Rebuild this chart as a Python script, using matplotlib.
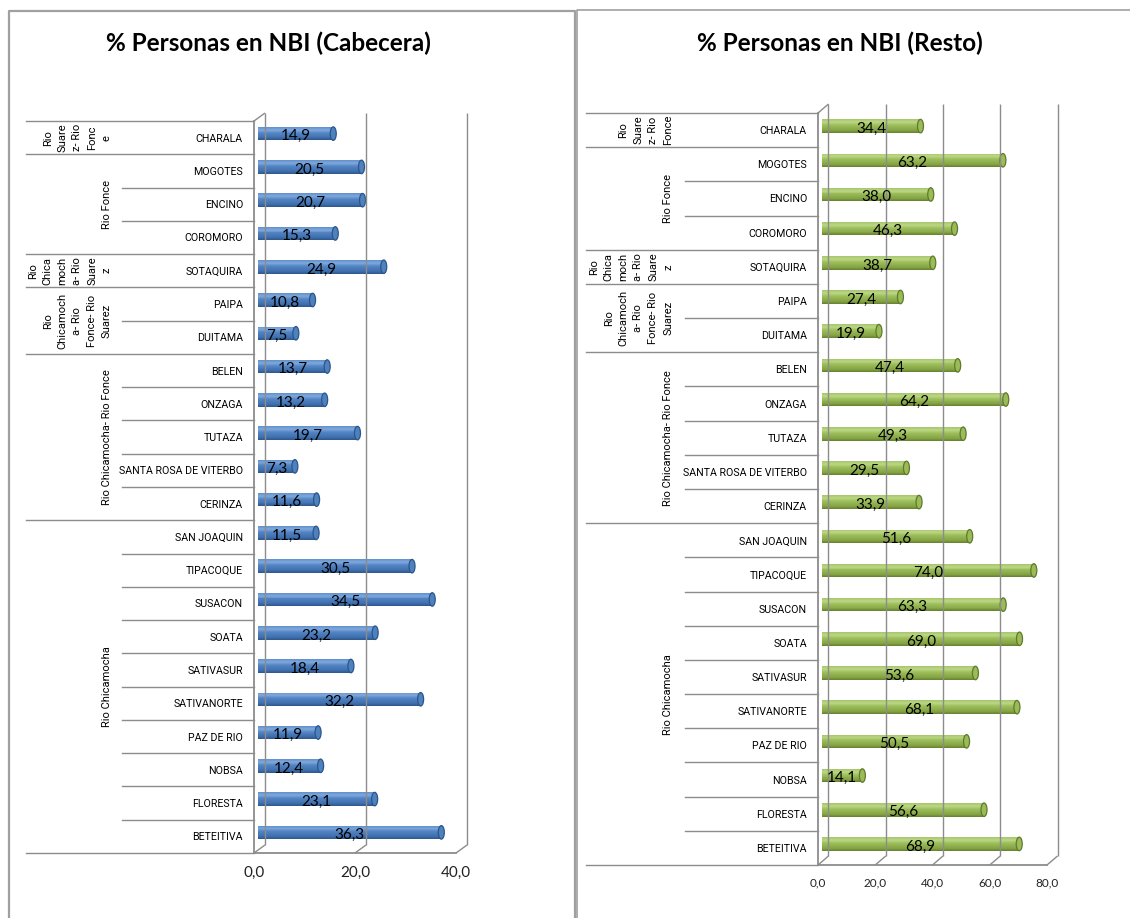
import matplotlib
matplotlib.use('Agg')
import matplotlib.pyplot as plt
from matplotlib.patches import Rectangle, Ellipse
from matplotlib.transforms import blended_transform_factory
import numpy as np

W, H, DPI = 1130, 918, 100

# ---------------- data ----------------
municipios = ["CHARALA", "MOGOTES", "ENCINO", "COROMORO", "SOTAQUIRA", "PAIPA",
              "DUITAMA", "BELEN", "ONZAGA", "TUTAZA", "SANTA ROSA DE VITERBO",
              "CERINZA", "SAN JOAQUIN", "TIPACOQUE", "SUSACON", "SOATA",
              "SATIVASUR", "SATIVANORTE", "PAZ DE RIO", "NOBSA", "FLORESTA",
              "BETEITIVA"]
cabecera = [14.9, 20.5, 20.7, 15.3, 24.9, 10.8, 7.5, 13.7, 13.2, 19.7, 7.3,
            11.6, 11.5, 30.5, 34.5, 23.2, 18.4, 32.2, 11.9, 12.4, 23.1, 36.3]
resto = [34.4, 63.2, 38.0, 46.3, 38.7, 27.4, 19.9, 47.4, 64.2, 49.3, 29.5,
         33.9, 51.6, 74.0, 63.3, 69.0, 53.6, 68.1, 50.5, 14.1, 56.6, 68.9]
grupo_tam = [1, 3, 1, 2, 5, 10]
grupos_cab = ["Rio\nSuare\nz- Rio\nFonc\ne", "Rio Fonce",
              "Rio\nChica\nmoch\na- Rio\nSuare\nz",
              "Rio\nChicamoch\na- Rio\nFonce- Rio\nSuarez",
              "Rio Chicamocha- Rio Fonce", "Rio Chicamocha"]
grupos_resto = ["Rio\nSuare\nz- Rio\nFonce", "Rio Fonce",
                "Rio\nChica\nmoch\na- Rio\nSuare\nz",
                "Rio\nChicamoch\na- Rio\nFonce- Rio\nSuarez",
                "Rio Chicamocha- Rio Fonce", "Rio Chicamocha"]
ticks_cab = [0, 20, 40]
ticks_resto = [0, 20, 40, 60, 80]
titulo_cab = "% Personas en NBI (Cabecera)"
titulo_resto = "% Personas en NBI (Resto)"

plt.rcParams['font.family'] = ['Lato', 'DejaVu Sans']
NARROW = ['Roboto', 'DejaVu Sans']
fig = plt.figure(figsize=(W / DPI, H / DPI), dpi=DPI)
fig.patch.set_facecolor('white')

# outer panel frames
bg = fig.add_axes([0, 0, 1, 1])
bg.set_xlim(0, W)
bg.set_ylim(H, 0)
bg.axis('off')
bg.plot([9, 9, 575, 575], [H, 11, 11, H], color='#A0A0A0', lw=1.6)
bg.plot([577, 577, W], [H, 10, 10], color='#A0A0A0', lw=1.2)

GRID = '#8C8C8C'


def interp_colors(stops, n):
    pos = [s[0] for s in stops]
    cols = [matplotlib.colors.to_rgb(s[1]) for s in stops]
    out = []
    for k in range(n):
        t = (k + 0.5) / n
        c = [np.interp(t, pos, [cc[j] for cc in cols]) for j in range(3)]
        out.append(c)
    return out


def panel(values, labels, grupos, ticks, title, geo, stops, cap_face, cap_edge,
          tick_fs, title_x):
    x0, x1, ytop, ybot, dx, dy, xmax, cat_x, row_left, grp_left, grp_x = geo
    n = len(values)
    ax = fig.add_axes([x0 / W, 1 - ybot / H, (x1 - x0) / W, (ybot - ytop) / H])
    ax.set_xlim(0, xmax)
    ax.set_ylim(n - 0.5, -0.5)
    ax.axis('off')
    sx = xmax / (x1 - x0)           # data per px (x)
    sy = n / (ybot - ytop)          # data per px (y)
    ddx, ddy = dx * sx, dy * sy
    yb, yt = n - 0.5, -0.5
    kw = dict(color=GRID, lw=1.0, clip_on=False, solid_capstyle='butt')
    # back wall gridlines
    for t in ticks:
        ax.plot([t + ddx, t + ddx], [yb - ddy, yt - ddy], **kw)
        ax.plot([t, t + ddx], [yb, yb - ddy], **kw)
    # front axes lines
    ax.plot([0, 0], [yt, yb], color=GRID, lw=1.3, clip_on=False)
    ax.plot([0, ddx], [yt, yt - ddy], **kw)
    ax.plot([0, xmax], [yb, yb], color=GRID, lw=1.3, clip_on=False)
    # tick labels
    for t in ticks:
        ax.text(t, yb + (20 if tick_fs > 9 else 18) * sy, f"{t:.1f}".replace('.', ','),
                ha='center', va='center', fontsize=tick_fs, color='#222222')
    # bars as cylinders
    bh = 13.5 * sy
    bx = 4 * sx
    by = 4 * sy
    cols = interp_colors(stops, 14)
    cap_w = 6 * sx
    for i, v in enumerate(values):
        yc = i - by
        top = yc - bh / 2
        for k, c in enumerate(cols):
            ax.add_patch(Rectangle((bx, top + k * bh / len(cols)), v,
                                   bh / len(cols) * 1.05, facecolor=c,
                                   edgecolor='none', lw=0, clip_on=False))
        ax.add_patch(Ellipse((bx + v, yc), cap_w, bh, facecolor=cap_face,
                             edgecolor=cap_edge, lw=0.9, clip_on=False))
        ax.text(bx + v / 2, i - 0.04, f"{v:.1f}".replace('.', ','),
                ha='center', va='center', fontsize=11, color='black')
    # category labels and separators
    bt = blended_transform_factory(fig.transFigure, ax.transData)
    for i, lab in enumerate(labels):
        ax.text(cat_x / W, i + 0.03, lab, transform=bt, ha='right', va='center',
                fontsize=7.7, color='black', family=NARROW)
    bounds = np.cumsum([0] + grupo_tam)
    for k in range(n + 1):
        xl = grp_left if k in bounds else row_left
        ax.plot([xl / W, x0 / W], [k - 0.5, k - 0.5], transform=bt,
                color=GRID, lw=1.0, clip_on=False)
    for g, lab in enumerate(grupos):
        yc = (bounds[g] + bounds[g + 1] - 1) / 2
        ax.text(grp_x / W, yc, lab, transform=bt, rotation=90, ha='right',
                va='center', multialignment='center', fontsize=8,
                linespacing=1.6, color='black', family=NARROW)
    fig.text(title_x / W, 1 - 43 / H, title, ha='center', va='center',
             fontsize=17.5, fontweight='bold', color='black')
    return ax


blue_stops = [(0.0, '#5F8FCB'), (0.22, '#80A8DD'), (0.45, '#5283C2'),
              (0.8, '#3F6FAD'), (1.0, '#2B568C')]
green_stops = [(0.0, '#A6C46A'), (0.22, '#BBD784'), (0.45, '#9CBD5A'),
               (0.8, '#85A545'), (1.0, '#657F2E')]

panel(cabecera, municipios, grupos_cab, ticks_cab, titulo_cab,
      (254, 456, 121, 853, 11, 8, 40, 243, 122, 26, 112),
      blue_stops, '#4F81BD', '#2B568C', 11, 268)
panel(resto, municipios, grupos_resto, ticks_resto, titulo_resto,
      (818, 1047, 113, 865, 10.5, 9, 80, 807, 685, 586, 673),
      green_stops, '#9BBB59', '#5E7A2B', 8.5, 840)

fig.savefig('out.png', dpi=DPI, facecolor='white')
